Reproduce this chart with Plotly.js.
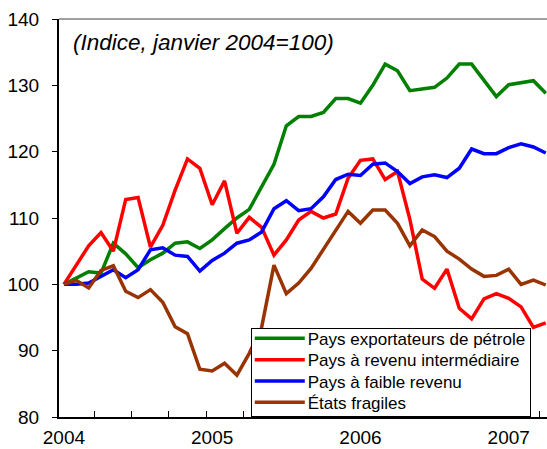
<!DOCTYPE html>
<html>
<head>
<meta charset="utf-8">
<script src="https://cdn.plot.ly/plotly-3.0.1.min.js"></script>
<style>
  html, body { margin: 0; padding: 0; background: #ffffff; }
  #chart { width: 547px; height: 449px; }
</style>
</head>
<body>
<div id="chart"></div>
<script>
// Month index 0 = janvier 2004 ... 39 = avril 2007
const months = Array.from({length: 40}, (_, i) => i);

const yearTickVals = [0, 12, 24, 36];
const yearTickText = ["2004", "2005", "2006", "2007"];

const seriesNames = [
  "Pays exportateurs de pétrole",
  "Pays à revenu intermédiaire",
  "Pays à faible revenu",
  "États fragiles"
];

const oilExporters = [
  100, 101.0, 101.9, 101.7, 106.2, 104.6, 102.5, 103.7, 104.7, 106.2,
  106.4, 105.4, 106.7, 108.4, 110.0, 111.3, 114.7, 118.1, 123.9, 125.3,
  125.3, 125.9, 128.0, 128.0, 127.3, 130.0, 133.2, 132.2, 129.2, 129.5,
  129.7, 131.1, 133.2, 133.2, 130.8, 128.3, 130.1, 130.4, 130.7, 128.8
];

const middleIncome = [
  100, 102.9, 105.8, 107.8, 105.0, 112.8, 113.1, 105.6, 108.9, 114.2,
  118.9, 117.5, 112.0, 115.6, 107.7, 110.1, 108.6, 104.4, 106.7, 109.7,
  111.0, 110.0, 110.6, 116.0, 118.7, 118.9, 115.8, 117.0, 109.8, 100.8,
  99.4, 102.3, 96.4, 94.8, 97.8, 98.6, 97.9, 96.6, 93.5, 94.2
];

const lowIncome = [
  100, 100.0, 100.2, 101.2, 102.2, 101.0, 102.2, 105.2, 105.5, 104.4,
  104.2, 102.0, 103.6, 104.7, 106.2, 106.7, 107.9, 111.4, 112.6, 111.1,
  111.4, 113.2, 115.8, 116.6, 116.4, 118.1, 118.3, 117.0, 115.2, 116.2,
  116.5, 116.1, 117.5, 120.4, 119.7, 119.7, 120.6, 121.2, 120.7, 119.8
];

const fragileStates = [
  100, 100.6, 99.45, 102.1, 102.8, 98.95, 98.0, 99.2, 97.3, 93.6,
  92.55, 87.2, 86.95, 88.1, 86.3, 89.6, 93.5, 102.9, 98.6, 100.2,
  102.4, 105.2, 108.1, 111.0, 109.2, 111.2, 111.2, 109.2, 105.8, 108.2,
  107.2, 105.0, 103.8, 102.3, 101.2, 101.35, 102.3, 100.0, 100.65, 99.9
];

const seriesValues = [oilExporters, middleIncome, lowIncome, fragileStates];
const seriesColors = ["#008000", "#ff0000", "#0000ff", "#993300"];

const FONT = "'Liberation Sans', Arial, sans-serif";

const traces = seriesValues.map((vals, k) => ({
  type: "scatter",
  mode: "lines",
  x: months,
  y: vals,
  name: seriesNames[k],
  line: { color: seriesColors[k], width: 3.5 },
  hoverinfo: "skip"
}));

const minorTicks = [];
for (let v = 2.5; v < 39.5; v += 3) minorTicks.push(v);

const layout = {
  width: 547,
  height: 449,
  margin: { l: 59, r: 0, t: 19, b: 32, pad: 0 },
  paper_bgcolor: "#ffffff",
  plot_bgcolor: "#ffffff",
  font: { family: FONT, color: "#000000" },
  showlegend: true,
  xaxis: {
    range: [-0.4, 39.1],
    tickmode: "array",
    tickvals: yearTickVals,
    ticktext: yearTickText,
    ticks: "",
    showgrid: false,
    zeroline: false,
    showline: true,
    linecolor: "#000000",
    linewidth: 2,
    tickfont: { family: FONT, size: 19, color: "#000000" },
    ticklabelstandoff: 2,
    minor: {
      tickmode: "array",
      tickvals: minorTicks,
      ticks: "inside",
      ticklen: 6,
      tickwidth: 1,
      tickcolor: "#000000",
      showgrid: false
    }
  },
  yaxis: {
    range: [80, 140],
    tickmode: "linear",
    tick0: 80,
    dtick: 10,
    ticks: "outside",
    ticklen: 5,
    tickwidth: 1,
    tickcolor: "#000000",
    showgrid: false,
    zeroline: false,
    showline: true,
    linecolor: "#000000",
    linewidth: 2,
    tickfont: { family: FONT, size: 19, color: "#000000" },
    ticklabelstandoff: 9
  },
  shapes: [
    { type: "line", xref: "paper", yref: "paper", x0: 0, x1: 1, y0: 1, y1: 1,
      line: { color: "#808080", width: 1.5 } }
  ],
  annotations: [
    { text: "<i>(Indice, janvier 2004=100)</i>", xref: "paper", yref: "paper",
      x: 0.024, y: 0.941, xanchor: "left", yanchor: "middle", showarrow: false,
      font: { family: FONT, size: 22.5, color: "#000000" } }
  ],
  legend: {
    x: 0.393, y: 0, xanchor: "left", yanchor: "bottom",
    bgcolor: "#ffffff", bordercolor: "#000000", borderwidth: 1,
    font: { family: FONT, size: 17, color: "#000000" },
    itemwidth: 46,
    tracegroupgap: 0
  }
};

function parseTranslate(t) {
  const m = /translate\(\s*([-\d.e]+)[ ,]+([-\d.e]+)\s*\)/.exec(t || "");
  return m ? [parseFloat(m[1]), parseFloat(m[2])] : [0, 0];
}

Plotly.newPlot("chart", traces, layout, { displayModeBar: false, staticPlot: true }).then(() => {
  const root = document.getElementById("chart").getBoundingClientRect();
  const leg = document.querySelector(".legend");
  if (!leg) return;
  // longer legend line samples, as in the reference
  leg.querySelectorAll(".legendlines path").forEach(p => p.setAttribute("d", "M3,0h50"));
  // tighten rows: centres at 338.3 + k*21.35 (page px)
  const items = leg.querySelectorAll(".traces");
  items.forEach((it, k) => {
    const ln = it.querySelector(".legendlines path");
    if (!ln) return;
    const r = ln.getBoundingClientRect();
    const cy = (r.top + r.bottom) / 2 - root.top;
    const want = 338.3 + k * 21.35;
    const [tx, ty] = parseTranslate(it.getAttribute("transform"));
    it.setAttribute("transform", `translate(${tx},${ty + (want - cy)})`);
  });
  // box: 251..530 x 328.5..416.5
  const bg = leg.querySelector("rect.bg");
  if (bg) {
    const r = bg.getBoundingClientRect();
    const top = r.top - root.top, left = r.left - root.left;
    const y = parseFloat(bg.getAttribute("y") || 0);
    const x = parseFloat(bg.getAttribute("x") || 0);
    bg.setAttribute("y", y + (328.5 - top));
    bg.setAttribute("x", x + (251 - left));
    bg.setAttribute("height", 88);
    bg.setAttribute("width", 279);
  }
});
</script>
</body>
</html>
